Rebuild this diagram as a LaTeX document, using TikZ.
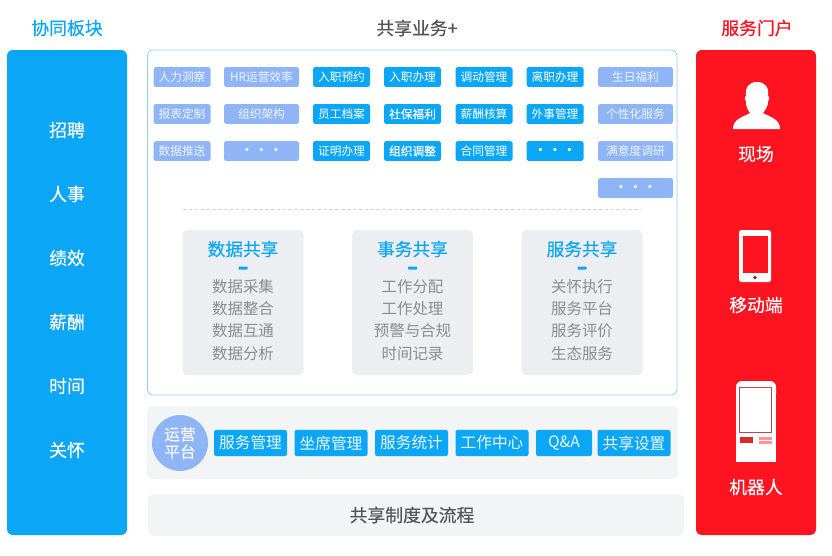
\documentclass[tikz,border=0pt]{standalone}
\usepackage{fontspec}
\setmainfont{Noto Sans CJK SC}
\newfontfamily\medcjk[FakeBold=0.35]{Noto Sans CJK SC}
\newcommand{\moredots}{\raisebox{-1.8pt}{\bfseries • • •}}
\definecolor{skyb}{HTML}{0BA6F6}
\definecolor{paleb}{HTML}{90B5F6}
\definecolor{redp}{HTML}{FD1420}
\definecolor{grayp}{HTML}{F3F4F6}
\definecolor{grayq}{HTML}{EDEEF1}
\definecolor{frameb}{HTML}{8FD3EA}
\definecolor{textg}{HTML}{8C8C8C}
\definecolor{textd}{HTML}{555555}
\tikzset{
	panel/.style={rounded corners=5pt,inner sep=0pt},
	tag/.style={rounded corners=1.5pt,inner sep=0pt,minimum height=17pt,text=white,font=\fontsize{10}{11}\selectfont},
	tagb/.style={tag,fill=skyb},
	tagp/.style={tag,fill=paleb,text=white!85!paleb},
	optag/.style={rounded corners=2pt,fill=skyb,inner sep=0pt,minimum height=22.5pt,text=white!92!skyb,font=\fontsize{13.4}{14}\selectfont},
	side/.style={text=white,font=\fontsize{15.2}{17}\medcjk},
	head/.style={font=\fontsize{15.2}{17}\medcjk},
	share/.style={text=skyb,font=\fontsize{15.1}{17}\medcjk},
	item/.style={text=textg,font=\fontsize{13.2}{15}\selectfont}
}
\begin{document}
\begin{tikzpicture}[x=0.03cm,y=-0.03cm]
	\useasboundingbox (0,0) rectangle (832,556);
	% titles
	\node[head,text=skyb] (t_left) at (67,28) {协同板块};
	\node[head,text=textd] (t_mid) at (417,28) {共享业务+};
	\node[head,text=redp] (t_right) at (757,28) {服务门户};
	% left panel
	\fill[skyb,rounded corners=5pt] (7,50) rectangle (127,535);
	\foreach \t/\y in {招聘/130,人事/194,绩效/258,薪酬/322,时间/386,关怀/450}{
		\node[side] (s_\y) at (67,\y) {\t};
	}
	% right panel
	\fill[redp,rounded corners=5pt] (696,50) rectangle (816,535);
	\node[side] (r_1) at (756,154) {现场};
	\node[side] (r_2) at (756,305) {移动端};
	\node[side] (r_3) at (756,487) {机器人};
	% person
	\fill[white] (733,129) .. controls (733,119) and (743,117) .. (750,113)
		.. controls (747,109) and (746,106) .. (746,102)
		.. controls (744,100) and (745,96) .. (746,96)
		.. controls (745,87) and (749,82) .. (757,82)
		.. controls (765,82) and (769,87) .. (768,96)
		.. controls (769,96) and (770,100) .. (768,102)
		.. controls (768,106) and (766,109) .. (763,113)
		.. controls (770,117) and (780,119) .. (780,129) -- cycle;
	% phone
	\fill[white,rounded corners=1.5pt] (739,230) rectangle (771,282);
	\fill[redp] (742.5,236) rectangle (767.5,273);
	\fill[redp!70!black] (755,277.5) circle (1.8);
	% kiosk
	\fill[white,rounded corners=5pt] (736,381) rectangle (776,400);
	\fill[white] (736,390) rectangle (776,462);
	\draw[redp!55!gray,line width=0.6pt] (739.5,387) rectangle (771.5,432);
	\fill[redp!85!black!90!white] (739.5,437) rectangle (753,443);
	\fill[redp!45!white] (759,437) rectangle (772,439.5);
	\fill[redp!45!white] (759,441) rectangle (772,443.5);
	% middle frame
	\draw[frameb,line width=0.7pt,rounded corners=5pt] (147.5,50) rectangle (677,395);
	% tags
	\foreach \t/\x/\y/\w/\s in {
		人力洞察/182/77/57/tagp,HR运营效率/261.5/77/75/tagp,入职预约/341.5/77/57/tagb,入职办理/412.5/77/57/tagb,调动管理/484/77/57/tagb,离职办理/555/77/57/tagb,生日福利/635.5/77/75/tagp,
		报表定制/182/114/57/tagp,组织架构/261.5/114/75/tagp,员工档案/341.5/114/57/tagb,薪酬核算/484/114/57/tagb,外事管理/555/114/57/tagb,个性化服务/635.5/114/75/tagp,
		数据推送/182/151/57/tagp,\moredots/261.5/151/75/tagp,证明办理/341.5/151/57/tagb,合同管理/484/151/57/tagb,\moredots/555/151/57/tagb,满意度调研/635.5/151/75/tagp,
		\moredots/635.5/188/75/tagp}{
		\node[\s,minimum width=\w*0.03cm] (b_\x_\y) at (\x,\y) {\t};
	}
	\node[tagb,minimum width=1.71cm,font=\fontsize{10}{11}\medcjk] (b_sb) at (412.5,114) {社保福利};
	\node[tagb,minimum width=1.71cm,font=\fontsize{10}{11}\medcjk] (b_zz) at (412.5,151) {组织调整};
	\draw[gray!30,densely dashed,line width=0.3pt] (183,209) -- (640,209);
	% sharing cards
	\foreach \x/\h/\a/\b/\c/\d in {
		243/数据共享/数据采集/数据整合/数据互通/数据分析,
		412.5/事务共享/工作分配/工作处理/预警与合规/时间记录,
		582/服务共享/关怀执行/服务平台/服务评价/生态服务}{
		\fill[grayq,rounded corners=4pt] (\x-60.5,230) rectangle (\x+60.5,375);
		\node[share] (h_\x) at (\x,249) {\h};
		\fill[skyb,rounded corners=0.5pt] (\x-4.5,266.5) rectangle (\x+4.5,269.5);
		\node[item] (i_\x_1) at (\x,286.5) {\a};
		\node[item] (i_\x_2) at (\x,309) {\b};
		\node[item] (i_\x_3) at (\x,331) {\c};
		\node[item] (i_\x_4) at (\x,353.5) {\d};
	}
	% operation bar
	\fill[grayp,panel] (147,406) rectangle (678,479);
	\node[circle,fill=paleb,minimum size=1.68cm,inner sep=0pt,text=white!90!paleb,align=center,font=\fontsize{13.4}{15}\medcjk] (op) at (180,443) {运营\\平台};
	\foreach \t/\x/\w in {服务管理/250.5/73,坐席管理/331/73,服务统计/411.5/73,工作中心/492/73,Q\&A/564/56,共享设置/634/73}{
		\node[optag,minimum width=\w*0.03cm] (o_\x) at (\x,443) {\t};
	}
	% bottom bar
	\fill[grayp,panel] (148,494) rectangle (684,536);
	\node[head,text=textd] (bar) at (412,515) {共享制度及流程};
\end{tikzpicture}
\end{document}
